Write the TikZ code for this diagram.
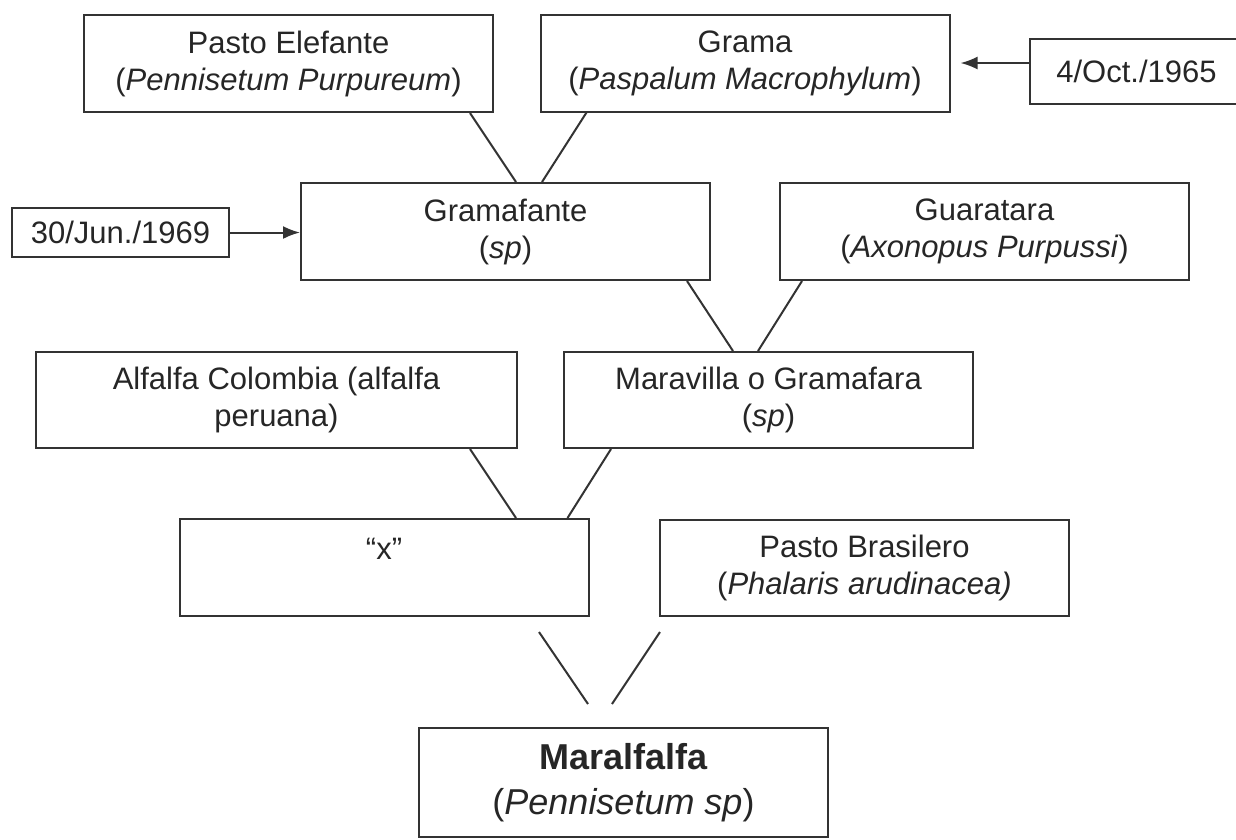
\documentclass[tikz,border=0pt]{standalone}
\usepackage{fontspec}
\setmainfont{Liberation Sans}
\usetikzlibrary{arrows.meta,positioning}
\tikzset{
    plant/.style={draw=black!80, line width=2pt, minimum width=409pt, minimum height=97pt,
        inner sep=0pt, align=center, text=black!85, font=\fontsize{31}{37}\selectfont},
    datebox/.style={draw=black!80, line width=2pt, inner sep=0pt, text=black!85,
        font=\fontsize{31}{37}\selectfont},
    link/.style={draw=black!80, line width=2pt},
    datearrow/.style={link, -{Latex[length=17pt,width=13pt]}}
}

\begin{document}
\begin{tikzpicture}[x=1pt,y=-1pt]
    \useasboundingbox (0,0) rectangle (1236,839);

    % draw the parent grasses
    \node[plant] (elefante) at (288.5,63.5) {Pasto Elefante\\(\textit{Pennisetum Purpureum})};
    \node[plant] (grama) at (745,63) {Grama\\(\textit{Paspalum Macrophylum})};
    \node[datebox, minimum width=213pt, minimum height=65pt] (oct) at (1136.5,71.5) {4/Oct./1965};

    % second row
    \node[datebox, minimum width=217pt, minimum height=49pt] (jun) at (120.5,232.5) {30/Jun./1969};
    \node[plant] (gramafante) at (505.5,231.5) {Gramafante\\(\textit{sp})};
    \node[plant] (guaratara) at (984.5,231.5) {Guaratara\\(\textit{Axonopus Purpussi})};

    % third row
    \node[plant, minimum width=481pt, minimum height=96pt] (alfalfa) at (276.5,400) {Alfalfa Colombia (alfalfa\\peruana)};
    \node[plant, minimum height=96pt] (maravilla) at (768.5,400) {Maravilla o Gramafara\\(\textit{sp})};

    % fourth row
    \node[plant] (cruce) at (384,567.5) {“x”\\\mbox{}};
    \node[plant, minimum height=96pt] (brasilero) at (864.5,568) {Pasto Brasilero\\(\textit{Phalaris arudinacea)}};

    % the result
    \node[plant, minimum height=109pt, font=\fontsize{36}{45}\selectfont] (maralfalfa) at (623.5,782.5)
        {\textbf{Maralfalfa}\\(\textit{Pennisetum sp})};

    % draw the dates
    \draw[datearrow] (oct.west |- grama.east) -- ([xshift=10pt]grama.east);
    \draw[datearrow] (jun.east) -- (jun.east -| gramafante.west);

    % draw the crossings
    \draw[link] ([xshift=-24pt]elefante.south east) -- ([xshift=10.5pt]gramafante.north);
    \draw[link] ([xshift=47pt]grama.south west) -- ([xshift=36.5pt]gramafante.north);
    \draw[link] ([xshift=-24pt]gramafante.south east) -- ([xshift=-35.5pt]maravilla.north);
    \draw[link] ([xshift=23pt]guaratara.south west) -- ([xshift=-10.5pt]maravilla.north);
    \draw[link] ([xshift=-48pt]alfalfa.south east) -- ([xshift=132pt]cruce.north);
    \draw[link] ([xshift=48pt]maravilla.south west) -- ([xshift=-22pt]cruce.north east);

    % loose lines above the result
    \coordinate (left top) at (539,632);
    \coordinate (left end) at (588,704);
    \coordinate (right top) at (660,632);
    \coordinate (right end) at (612,704);
    \draw[link] (left top) -- (left end);
    \draw[link] (right top) -- (right end);
\end{tikzpicture}
\end{document}
